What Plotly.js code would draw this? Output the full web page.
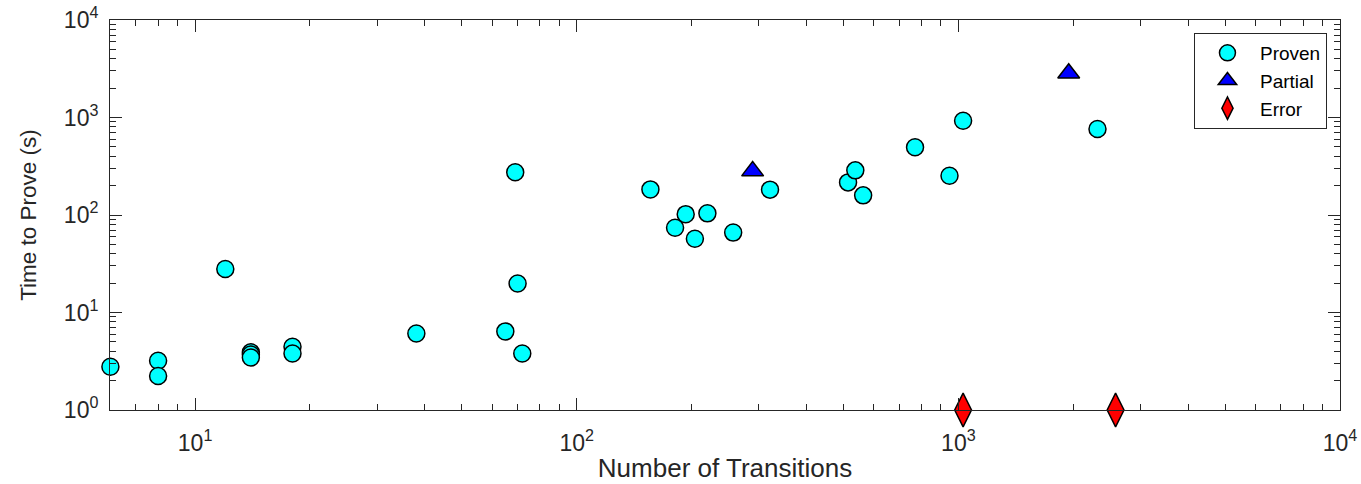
<!DOCTYPE html>
<html>
<head>
<meta charset="utf-8">
<script src="https://cdn.plot.ly/plotly-3.0.1.min.js"></script>
<style>html,body{margin:0;padding:0;background:#fff;}#chart{width:1361px;height:484px;}</style>
</head>
<body>
<div id="chart"></div>
<script>
// Data
const provenX = [6, 8, 8, 12, 14, 14, 14, 18, 18, 38, 65, 69, 70, 72, 156, 181, 193, 204, 220, 257, 321, 514, 537, 563, 770, 948, 1029, 2315];
const provenY = [2.78, 3.2, 2.23, 27.9, 3.9, 3.7, 3.45, 4.45, 3.8, 6.1, 6.4, 274, 19.8, 3.8, 183, 74, 102, 57, 104, 66, 182, 216, 287, 159, 495, 253, 927, 762];
const partialX = [289, 1946];
const partialY = [282, 2840];
const errorX = [1029, 2582];
const errorY = [1, 1];
const seriesNames = ["Proven", "Partial", "Error"];
const xTickVals = [10, 100, 1000, 10000];
const xTickText = ["10<sup>1</sup>", "10<sup>2</sup>", "10<sup>3</sup>", "10<sup>4</sup>"];
const yTickVals = [1, 10, 100, 1000, 10000];
const yTickText = ["10<sup>0</sup>", "10<sup>1</sup>", "10<sup>2</sup>", "10<sup>3</sup>", "10<sup>4</sup>"];

// minor tick positions: 2..9 within each decade
function minorVals(d0, d1) {
  const out = [];
  for (let d = d0; d < d1; d++) for (let m = 2; m <= 9; m++) out.push(m * Math.pow(10, d));
  return out;
}

const axisColor = "#262626";
const fontFam = "Liberation Sans, Arial, sans-serif";

const traces = [
  {x: provenX, y: provenY, name: seriesNames[0], mode: "markers", type: "scatter", cliponaxis: false,
   marker: {symbol: "circle", size: 17, color: "#00FFFF", line: {color: "#000", width: 1.5}}},
  {x: partialX, y: partialY, name: seriesNames[1], mode: "markers", type: "scatter", cliponaxis: false,
   marker: {symbol: "triangle-up", size: 19, color: "#0000FF", line: {color: "#000", width: 1.5}}},
  {x: errorX, y: errorY, name: seriesNames[2], mode: "markers", type: "scatter", cliponaxis: false,
   marker: {symbol: "diamond-tall", size: 24, color: "#FF0000", line: {color: "#000", width: 1.5}}}
];

const axisCommon = {
  type: "log", showgrid: false, zeroline: false, showline: true, mirror: "ticks",
  linecolor: axisColor, linewidth: 1, ticks: "inside", ticklen: 12, tickwidth: 1, tickcolor: axisColor,
  tickfont: {family: fontFam, size: 23, color: axisColor}
};

const layout = {
  width: 1361, height: 484,
  margin: {l: 110, r: 21, t: 20, b: 74},
  paper_bgcolor: "#fff", plot_bgcolor: "#fff",
  font: {family: fontFam, color: axisColor},
  showlegend: true,
  legend: {x: 0.9894, xanchor: "right", y: 0.9667, yanchor: "top", bgcolor: "#fff",
           bordercolor: axisColor, borderwidth: 1, font: {family: fontFam, size: 19, color: "#000"},
           itemwidth: 55, tracegroupgap: 0},
  xaxis: Object.assign({}, axisCommon, {
    range: [Math.log10(5.985), 4], tickmode: "array", tickvals: xTickVals, ticktext: xTickText,
    ticklabelstandoff: 12,
    minor: {tickmode: "array", tickvals: minorVals(0, 4), ticks: "inside", ticklen: 6, tickwidth: 1, tickcolor: axisColor, showgrid: false},
    title: {text: "Number of Transitions", font: {family: fontFam, size: 26, color: axisColor}, standoff: 4}
  }),
  yaxis: Object.assign({}, axisCommon, {
    range: [0, 4], tickmode: "array", tickvals: yTickVals, ticktext: yTickText,
    ticklabelstandoff: 6,
    minor: {tickmode: "array", tickvals: minorVals(0, 4), ticks: "inside", ticklen: 6, tickwidth: 1, tickcolor: axisColor, showgrid: false},
    title: {text: "Time to Prove (s)", font: {family: fontFam, size: 22.5, color: axisColor}, standoff: 20}
  })
};

Plotly.newPlot("chart", traces, layout, {staticPlot: true, displayModeBar: false});
</script>
</body>
</html>
